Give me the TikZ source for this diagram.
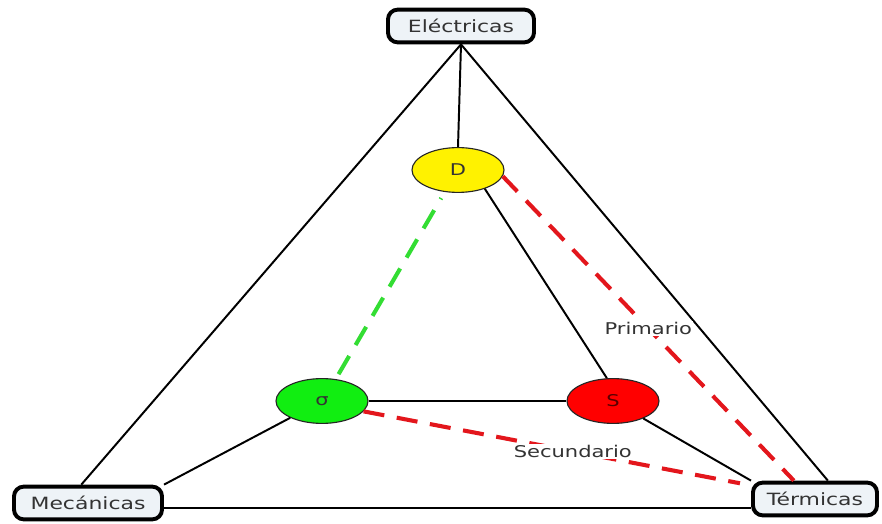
\documentclass[tikz,border=0pt]{standalone}
\usepackage{fontspec}
\setmainfont{DejaVu Sans}
\usepackage{graphicx}
\usepackage{tikz}
\usetikzlibrary{shapes.geometric}
\definecolor{boxfill}{HTML}{EEF3F7}
\definecolor{txtgray}{HTML}{333333}
\definecolor{dashred}{HTML}{E3161C}
\definecolor{dashgreen}{HTML}{33DD33}
\definecolor{propgreen}{HTML}{11EE11}
\newcommand{\wide}[1]{\scalebox{1.3}[1]{#1}}

\begin{document}
\begin{tikzpicture}[x=0.025cm,y=-0.025cm]
        \tikzstyle{area}=[rectangle,rounded corners=7pt,draw=black,line width=2.8pt,fill=boxfill,text=txtgray,font=\fontsize{12}{14}\selectfont,minimum height=0.82cm]
        \tikzstyle{prop}=[ellipse,draw=black!85,line width=0.8pt,minimum width=2.3cm,minimum height=1.12cm,text=txtgray,font=\fontsize{11.5}{13}\selectfont]
        \tikzstyle{link}=[line width=1.4pt]
        \tikzstyle{bond}=[line width=2.9pt,dash pattern=on 15pt off 9pt]
        \tikzstyle{tag}=[fill=white,inner sep=1pt,text=txtgray,font=\fontsize{11.5}{13}\selectfont]
        \useasboundingbox (0,0) rectangle (882,524);

        \node[area,minimum width=3.65cm] (elec) at (461,26) {\wide{Eléctricas}};
        \node[area,minimum width=3.7cm] (meca) at (88,503) {\wide{Mecánicas}};
        \node[area,minimum width=3.1cm] (term) at (815,499) {\wide{Térmicas}};

        \node[prop,fill=yellow] (dnode) at (458,170) {\wide{D}};
        \node[prop,fill=propgreen] (sigma) at (322,401) {\wide{σ}};
        \node[prop,fill=red,text=red!35!black] (snode) at (613,401) {\wide{S}};

        \draw[link] (elec.south) -- (dnode.north);
        \draw[link] (elec.south) -- (meca.110);
        \draw[link] (elec.south) -- (term.55);
        \draw[link] (meca.north east) -- (sigma);
        \draw[link] (meca.-4) -- (meca.-4 -| term.west);
        \draw[link] (sigma) -- (snode);
        \draw[link] (dnode.-35) -- (snode.105);
        \draw[link] (snode) -- (term.north west);

        %\node at (640,327) {Primario};
        \draw[bond,dashgreen,shorten <=4pt,shorten >=5pt] (sigma.58) -- (dnode.-121);
        \draw[bond,dashred] (dnode.-8) -- node[tag] (prim) {\wide{Primario}} (term.139);
        \draw[bond,dashred,shorten >=8pt] (sigma.-14) -- node[tag,pos=0.54] (secu) {\wide{Secundario}} (term.168);
    \end{tikzpicture}
\end{document}
